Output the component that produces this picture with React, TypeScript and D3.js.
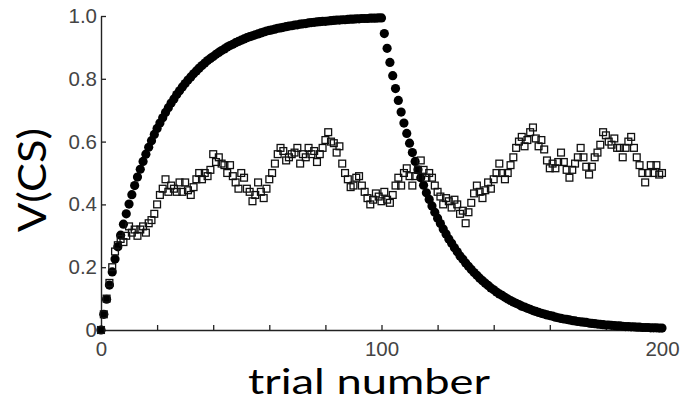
import React, { useRef, useEffect } from 'react'
import { select, scaleLinear, axisLeft, axisBottom, range } from 'd3'

// model prediction (filled dots), trials 0..200
const predicted = [
  0, 0.05, 0.098, 0.143, 0.185, 0.226, 0.265, 0.302, 0.337, 0.37,
  0.401, 0.431, 0.46, 0.487, 0.512, 0.537, 0.56, 0.582, 0.603, 0.623,
  0.642, 0.659, 0.676, 0.693, 0.708, 0.723, 0.736, 0.75, 0.762, 0.774,
  0.785, 0.796, 0.806, 0.816, 0.825, 0.834, 0.842, 0.85, 0.858, 0.865,
  0.871, 0.878, 0.884, 0.89, 0.895, 0.901, 0.906, 0.91, 0.915, 0.919,
  0.923, 0.927, 0.931, 0.934, 0.937, 0.94, 0.943, 0.946, 0.949, 0.952,
  0.954, 0.956, 0.958, 0.961, 0.962, 0.964, 0.966, 0.968, 0.969, 0.971,
  0.972, 0.974, 0.975, 0.976, 0.978, 0.979, 0.98, 0.981, 0.982, 0.983,
  0.983, 0.984, 0.985, 0.986, 0.987, 0.987, 0.988, 0.988, 0.989, 0.99,
  0.99, 0.991, 0.991, 0.992, 0.992, 0.992, 0.993, 0.993, 0.993, 0.994,
  0.994,
  0.944, 0.897, 0.852, 0.81, 0.769, 0.731, 0.694, 0.659, 0.626, 0.595,
  0.565, 0.537, 0.51, 0.485, 0.461, 0.437, 0.416, 0.395, 0.375, 0.356,
  0.339, 0.322, 0.306, 0.29, 0.276, 0.262, 0.249, 0.236, 0.225, 0.213,
  0.203, 0.193, 0.183, 0.174, 0.165, 0.157, 0.149, 0.142, 0.134, 0.128,
  0.121, 0.115, 0.11, 0.104, 0.099, 0.094, 0.089, 0.085, 0.081, 0.076,
  0.073, 0.069, 0.066, 0.062, 0.059, 0.056, 0.053, 0.051, 0.048, 0.046,
  0.044, 0.041, 0.039, 0.037, 0.035, 0.034, 0.032, 0.03, 0.029, 0.027,
  0.026, 0.025, 0.024, 0.022, 0.021, 0.02, 0.019, 0.018, 0.017, 0.016,
  0.016, 0.015, 0.014, 0.013, 0.013, 0.012, 0.011, 0.011, 0.01, 0.01,
  0.009, 0.009, 0.008, 0.008, 0.008, 0.007, 0.007, 0.007, 0.006, 0.006,
]

// observed (open squares), trials 0..200
const observed = [
  0, 0.05, 0.1, 0.15, 0.2, 0.25, 0.27, 0.29, 0.28, 0.3,
  0.33, 0.31, 0.32, 0.3, 0.32, 0.33, 0.31, 0.34, 0.35, 0.37,
  0.4, 0.43, 0.45, 0.48, 0.44, 0.46, 0.45, 0.44, 0.47, 0.44,
  0.47, 0.445, 0.43, 0.455, 0.48, 0.5, 0.48, 0.5, 0.49, 0.51,
  0.56, 0.535, 0.55, 0.53, 0.525, 0.5, 0.525, 0.49, 0.47, 0.45,
  0.5, 0.485, 0.45, 0.44, 0.41, 0.43, 0.47, 0.44, 0.42, 0.45,
  0.48, 0.5, 0.53, 0.56, 0.58, 0.57, 0.54, 0.55, 0.56, 0.565,
  0.58, 0.53, 0.56, 0.55, 0.58, 0.56, 0.57, 0.535, 0.56, 0.58,
  0.605, 0.63, 0.6, 0.595, 0.565, 0.585, 0.53, 0.5, 0.48, 0.455,
  0.46, 0.485, 0.49, 0.46, 0.44, 0.42, 0.4, 0.415, 0.435, 0.425,
  0.41, 0.44, 0.415, 0.405, 0.43, 0.46, 0.485, 0.46, 0.5, 0.515,
  0.49, 0.46, 0.49, 0.51, 0.54, 0.51, 0.485, 0.5, 0.485, 0.46,
  0.44, 0.425, 0.4, 0.42, 0.41, 0.39, 0.415, 0.4, 0.37, 0.38,
  0.34, 0.375, 0.405, 0.435, 0.46, 0.44, 0.42, 0.445, 0.47, 0.45,
  0.48, 0.5, 0.53, 0.5, 0.48, 0.5, 0.525, 0.55, 0.58, 0.6,
  0.615, 0.585, 0.605, 0.63, 0.645, 0.61, 0.585, 0.605, 0.575, 0.54,
  0.515, 0.53, 0.515, 0.535, 0.565, 0.535, 0.51, 0.485, 0.51, 0.53,
  0.55, 0.58, 0.55, 0.52, 0.495, 0.52, 0.55, 0.565, 0.59, 0.63,
  0.62, 0.6, 0.59, 0.61, 0.58, 0.58, 0.55, 0.58, 0.6, 0.615,
  0.58, 0.55, 0.525, 0.5, 0.47, 0.5, 0.525, 0.5, 0.525, 0.495,
  0.5,
]

const xTicks = [0, 20, 40, 60, 80, 100, 120, 140, 160, 180, 200]
const xLabels = [0, 100, 200]
const yTicks = [0, 0.2, 0.4, 0.6, 0.8, 1.0]

export default function App() {
  const svgRef = useRef(null)
  const width = 683
  const height = 414

  useEffect(() => {
    const svg = select(svgRef.current)
    svg.selectAll('*').remove()

    const x = scaleLinear().domain([0, 200]).range([101, 662])
    const y = scaleLinear().domain([0, 1]).range([330, 16])
    const trials = range(0, predicted.length)

    // axes, ticks pointing inward
    const gx = svg.append('g')
      .attr('transform', `translate(0, ${y(0)})`)
      .call(axisBottom(x).tickValues(xTicks)
        .tickSizeInner(-5).tickSizeOuter(0).tickPadding(11)
        .tickFormat(d => xLabels.includes(d) ? String(d) : ''))
    const gy = svg.append('g')
      .attr('transform', `translate(${x(0)}, 0)`)
      .call(axisLeft(y).tickValues(yTicks)
        .tickSizeInner(-5).tickSizeOuter(0).tickPadding(4)
        .tickFormat(d => d === 0 ? '0' : d.toFixed(1)))

    ;[gx, gy].forEach(g => {
      g.select('.domain').attr('stroke', '#222').attr('stroke-width', 1.4)
      g.selectAll('.tick line').attr('stroke', '#222').attr('stroke-width', 1.3)
      g.selectAll('.tick text')
        .attr('fill', '#444')
        .attr('font-family', '"Liberation Sans", Arial, sans-serif')
        .attr('font-size', 20.5)
    })

    // filled dots
    svg.append('g')
      .selectAll('circle')
      .data(trials)
      .join('circle')
        .attr('cx', i => x(i))
        .attr('cy', i => y(predicted[i]))
        .attr('r', 4.6)
        .attr('fill', '#000')

    // open squares
    const s = 6.8
    svg.append('g')
      .selectAll('rect')
      .data(trials)
      .join('rect')
        .attr('x', i => x(i) - s / 2)
        .attr('y', i => y(observed[i]) - s / 2)
        .attr('width', s)
        .attr('height', s)
        .attr('fill', 'none')
        .attr('stroke', '#111')
        .attr('stroke-width', 1.3)

    // axis titles
    svg.append('text')
      .attr('x', 369)
      .attr('y', 394)
      .attr('text-anchor', 'middle')
      .attr('font-family', 'Lato, "Open Sans", sans-serif')
      .attr('font-size', 35)
      .attr('textLength', 242)
      .attr('lengthAdjust', 'spacingAndGlyphs')
      .text('trial number')

    svg.append('text')
      .attr('transform', 'translate(46, 180) rotate(-90)')
      .attr('text-anchor', 'middle')
      .attr('font-family', 'Lato, "Open Sans", sans-serif')
      .attr('font-size', 38)
      .attr('textLength', 104)
      .attr('lengthAdjust', 'spacingAndGlyphs')
      .text('V(CS)')
  }, [])

  return (
    <svg
      ref={svgRef}
      width={width}
      height={height}
      style={{ position: 'absolute', left: 0, top: 0, background: '#fff' }}
    />
  )
}
